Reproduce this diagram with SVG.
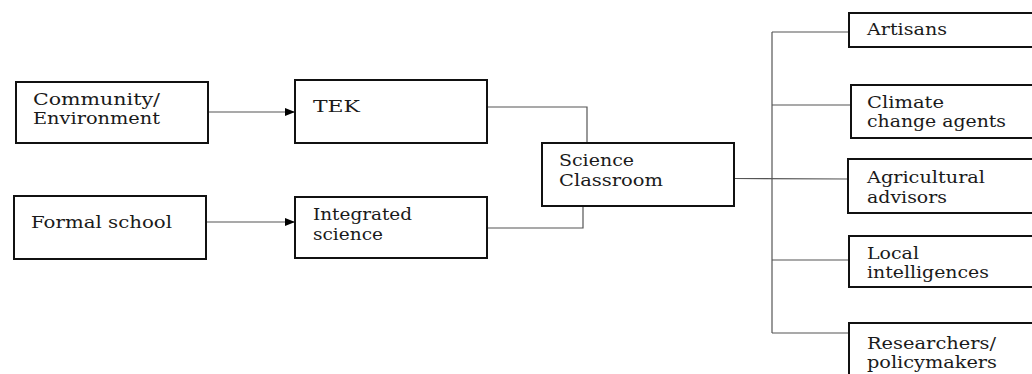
<svg xmlns="http://www.w3.org/2000/svg" width="1032" height="374" viewBox="0 0 1032 374">
<style>
.box{fill:#fff;stroke:#111;stroke-width:2}
.ln{fill:none;stroke:#555;stroke-width:1.2}
.t{font-family:'DejaVu Serif','Liberation Serif',serif;font-size:17px;fill:#1a1a1a}
</style>
<defs>
<marker id="arr" viewBox="0 0 10 8" refX="10" refY="4" markerWidth="10" markerHeight="8" markerUnits="userSpaceOnUse" orient="auto">
<path d="M0,0 L10,4 L0,8 Z" fill="#000"/>
</marker>
</defs>
<rect width="1032" height="374" fill="#fff"/>
<g id="connectors">
<line class="ln" x1="208" y1="112" x2="295" y2="112" marker-end="url(#arr)"/>
<line class="ln" x1="206" y1="222" x2="295" y2="222" marker-end="url(#arr)"/>
<polyline class="ln" points="487,107 587,107 587,143"/>
<polyline class="ln" points="487,228 583,228 583,206"/>
<line class="ln" x1="734" y1="178.5" x2="848" y2="179"/>
<line class="ln" x1="772" y1="32" x2="772" y2="333"/>
<line class="ln" x1="772" y1="32" x2="849" y2="32"/>
<line class="ln" x1="772" y1="105" x2="851" y2="105"/>
<line class="ln" x1="772" y1="260" x2="849" y2="260"/>
<line class="ln" x1="772" y1="333" x2="849" y2="333"/>
</g>
<g class="t">
<g id="community">
<rect class="box" x="16" y="82" width="192" height="61"/>
<text x="33" y="105" textLength="127" lengthAdjust="spacingAndGlyphs">Community/</text>
<text x="33" y="124" textLength="127" lengthAdjust="spacingAndGlyphs">Environment</text>
</g>
<g id="formal">
<rect class="box" x="14" y="196" width="192" height="63"/>
<text x="31" y="228" textLength="141" lengthAdjust="spacingAndGlyphs">Formal school</text>
</g>
<g id="tek">
<rect class="box" x="295" y="80" width="192" height="63"/>
<text x="313" y="112" textLength="47" lengthAdjust="spacingAndGlyphs">TEK</text>
</g>
<g id="integrated">
<rect class="box" x="295" y="197" width="192" height="61"/>
<text x="313" y="220" textLength="99" lengthAdjust="spacingAndGlyphs">Integrated</text>
<text x="313" y="240" textLength="70" lengthAdjust="spacingAndGlyphs">science</text>
</g>
<g id="classroom">
<rect class="box" x="542" y="143" width="192" height="63"/>
<text x="559" y="166" textLength="75" lengthAdjust="spacingAndGlyphs">Science</text>
<text x="559" y="186" textLength="104" lengthAdjust="spacingAndGlyphs">Classroom</text>
</g>
<g id="artisans">
<rect class="box" x="849" y="13" width="200" height="34"/>
<text x="867" y="35" textLength="80" lengthAdjust="spacingAndGlyphs">Artisans</text>
</g>
<g id="climate">
<rect class="box" x="851" y="85" width="200" height="53"/>
<text x="867" y="108" textLength="77" lengthAdjust="spacingAndGlyphs">Climate</text>
<text x="867" y="127" textLength="139" lengthAdjust="spacingAndGlyphs">change agents</text>
</g>
<g id="agricultural">
<rect class="box" x="848" y="159" width="200" height="54"/>
<text x="867" y="183" textLength="118" lengthAdjust="spacingAndGlyphs">Agricultural</text>
<text x="867" y="203" textLength="80" lengthAdjust="spacingAndGlyphs">advisors</text>
</g>
<g id="local">
<rect class="box" x="849" y="236" width="200" height="51"/>
<text x="867" y="259" textLength="52" lengthAdjust="spacingAndGlyphs">Local</text>
<text x="867" y="278" textLength="122" lengthAdjust="spacingAndGlyphs">intelligences</text>
</g>
<g id="researchers">
<rect class="box" x="849" y="323" width="200" height="70"/>
<text x="867" y="349" textLength="129" lengthAdjust="spacingAndGlyphs">Researchers/</text>
<text x="867" y="368" textLength="130" lengthAdjust="spacingAndGlyphs">policymakers</text>
</g>
</g>
</svg>
